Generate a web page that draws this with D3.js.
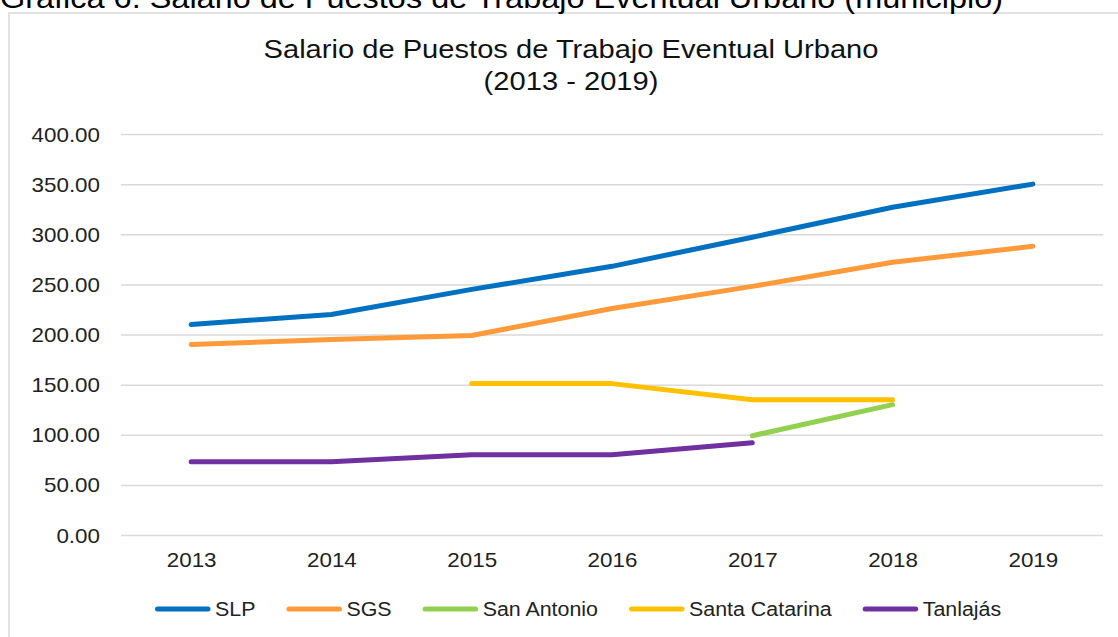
<!DOCTYPE html>
<html>
<head>
<meta charset="utf-8">
<script src="https://cdn.jsdelivr.net/npm/d3@7"></script>
<style>
  body { margin: 0; background: #fff; }
  svg text { font-family: "Liberation Sans", Arial, sans-serif; }
</style>
</head>
<body>
<svg id="canvas" width="1118" height="637"></svg>
<script>
let years = ['2013', '2014', '2015', '2016', '2017', '2018', '2019'];
let yTicks = [0, 50, 100, 150, 200, 250, 300, 350, 400];

let seriesNames = ['SLP', 'SGS', 'San Antonio', 'Santa Catarina', 'Tanlajás'];
let seriesColors = ['#0070c0', '#ff9a3a', '#92d050', '#ffc000', '#7030a0'];

let slp = [210, 220, 245, 268, 297, 327, 350];
let sgs = [190, 195, 199, 226, 248, 272, 288];
let sanAntonio = [null, null, null, null, 99, 130, null];
let santaCatarina = [null, null, 151, 151, 135, 135, null];
let tanlajas = [73, 73, 80, 80, 92, null, null];

let seriesValues = [slp, sgs, sanAntonio, santaCatarina, tanlajas];

let captionText = 'Gráfica 6. Salario de Puestos de Trabajo Eventual Urbano (municipio)';
let titleLines = ['Salario de Puestos de Trabajo Eventual Urbano', '(2013 - 2019)'];

// the source picture is stretched a bit horizontally
let sx = 1.12;

let canvas = d3.select('#canvas');

let x = d3.scalePoint()
  .domain(years)
  .range([121, 1103])
  .padding(0.5);

let y = d3.scaleLinear()
  .domain([0, 400])
  .range([535, 134]);

let stretched = (sel, px, py, s) => sel.attr('transform', `translate(${px},${py}) scale(${s || sx},1)`);

// outer chart frame
canvas.append('rect')
  .attr('x', 9)
  .attr('y', 13)
  .attr('width', 1130)
  .attr('height', 640)
  .attr('fill', '#fff')
  .attr('stroke', '#d9d9d9')
  .attr('stroke-width', 1.5);

// caption above the frame (cut by the top edge, as in the source)
canvas.append('text')
  .text(captionText)
  .attr('font-size', 29)
  .attr('fill', '#000')
  .call(stretched, 0, 8);

// title
titleLines.forEach((line, i) => {
  canvas.append('text')
    .text(line)
    .attr('font-size', 26)
    .attr('fill', '#111')
    .attr('text-anchor', 'middle')
    .call(stretched, 571, 58 + i * 32);
});

// gridlines + y labels
let yAxis = d3.axisLeft(y)
  .tickValues(yTicks)
  .tickSize(-(1103 - 121))
  .tickPadding(0)
  .tickFormat(d3.format('.2f'));

let yG = canvas.append('g')
  .attr('transform', 'translate(121,0)')
  .call(yAxis);

yG.select('.domain').remove();
yG.selectAll('.tick line')
  .attr('stroke', '#d9d9d9')
  .attr('stroke-width', 1.5);
yG.selectAll('.tick text')
  .attr('font-size', 20)
  .attr('fill', '#222')
  .attr('x', null)
  .attr('dy', '0.35em')
  .attr('transform', `translate(-21,0) scale(${sx},1)`);

// x labels
let xAxis = d3.axisBottom(x).tickSize(0).tickPadding(0);
let xG = canvas.append('g')
  .attr('transform', 'translate(0,535)')
  .call(xAxis);
xG.select('.domain').remove();
xG.selectAll('.tick text')
  .attr('font-size', 20)
  .attr('fill', '#222')
  .attr('y', 0)
  .attr('dy', 0)
  .attr('transform', `translate(0,32) scale(${sx},1)`);

// lines
let line = d3.line()
  .defined(d => d != null)
  .x((d, i) => x(years[i]))
  .y(d => y(d));

canvas.selectAll('path.series')
  .data(seriesValues)
  .enter()
  .append('path')
  .attr('class', 'series')
  .attr('d', d => line(d))
  .attr('fill', 'none')
  .attr('stroke', (d, i) => seriesColors[i])
  .attr('stroke-width', 5)
  .attr('stroke-linecap', 'round')
  .attr('stroke-linejoin', 'round');

// legend
let legendY = 609;
let lx = 155;
seriesNames.forEach((name, i) => {
  canvas.append('line')
    .attr('x1', lx + 2.5)
    .attr('x2', lx + 53)
    .attr('y1', legendY)
    .attr('y2', legendY)
    .attr('stroke', seriesColors[i])
    .attr('stroke-width', 5)
    .attr('stroke-linecap', 'round');
  let t = canvas.append('text')
    .text(name)
    .attr('font-size', 20)
    .attr('fill', '#222')
    .attr('dy', '0.35em')
    .call(stretched, lx + 60, legendY, 1.07);
  let w = t.node().getComputedTextLength() * 1.07;
  lx = lx + 60 + w + 31;
});
</script>
</body>
</html>
